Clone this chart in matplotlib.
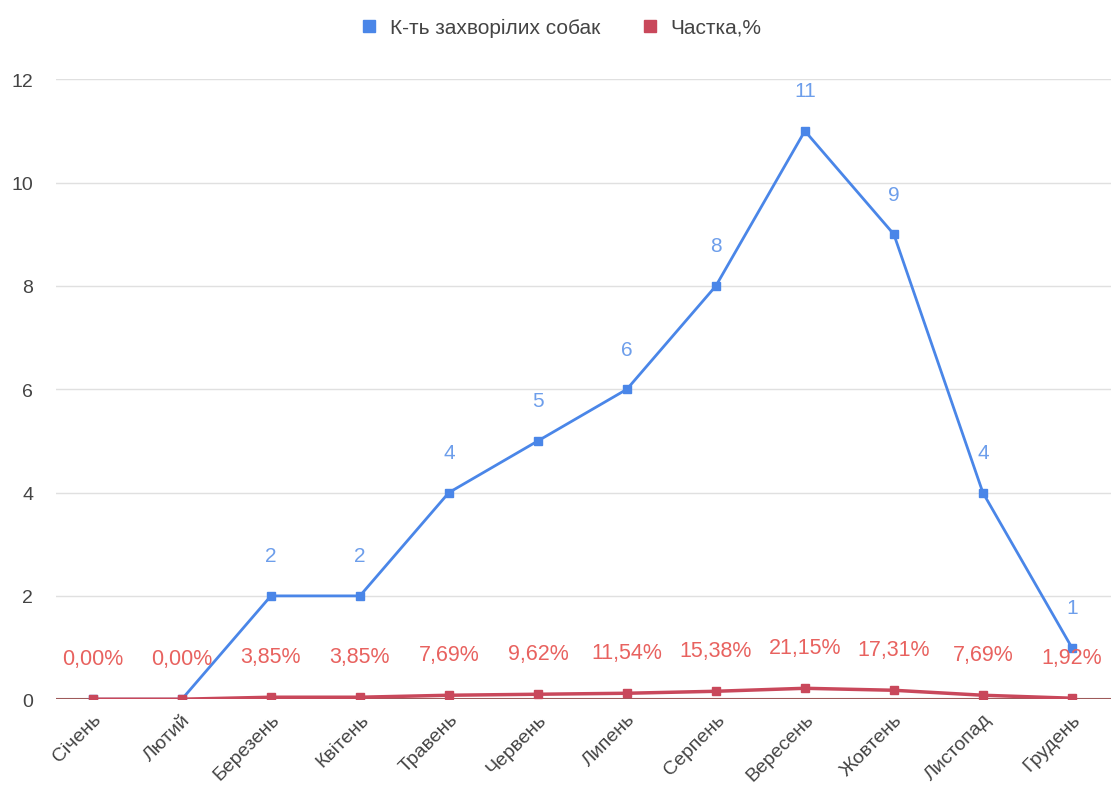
import matplotlib
matplotlib.use("Agg")
import matplotlib.pyplot as plt

months = ['Січень', 'Лютий', 'Березень', 'Квітень', 'Травень', 'Червень',
          'Липень', 'Серпень', 'Вересень', 'Жовтень', 'Листопад', 'Грудень']
sick_dogs = [0, 0, 2, 2, 4, 5, 6, 8, 11, 9, 4, 1]
share = [0.0, 0.0, 0.0385, 0.0385, 0.0769, 0.0962, 0.1154, 0.1538, 0.2115, 0.1731, 0.0769, 0.0192]
share_labels = ['0,00%', '0,00%', '3,85%', '3,85%', '7,69%', '9,62%',
                '11,54%', '15,38%', '21,15%', '17,31%', '7,69%', '1,92%']

plt.rcParams['font.family'] = ['Liberation Sans', 'DejaVu Sans']

blue = '#4a86e8'
red = '#c9485b'

fig = plt.figure(figsize=(11.11, 8.03), dpi=100)
ax = fig.add_axes([0.05, 0.128, 0.95, 0.772])

x = list(range(len(months)))
ax.plot(x, sick_dogs, color=blue, lw=2, marker='s', ms=6, label='К-ть захворілих собак')
ax.plot(x, share, color=red, lw=2.5, marker='s', ms=6, label='Частка,%')

# value labels
for i, v in enumerate(sick_dogs):
    if v > 0:
        ax.annotate(str(v), (i, v), xytext=(0, 22), textcoords='offset points',
                    ha='center', va='bottom', color='#6d9eeb', fontsize=15)
for i, (v, t) in enumerate(zip(share, share_labels)):
    ax.annotate(t, (i, v), xytext=(0, 22), textcoords='offset points',
                ha='center', va='bottom', color='#e8625f', fontsize=15.5)

ax.set_xlim(-0.42, 11.44)
ax.set_ylim(0, 12)
ax.set_yticks(range(0, 13, 2))
ax.set_xticks(x)
ax.set_xticklabels(months, rotation=45, ha='right', rotation_mode='anchor', fontsize=14, color='#444444')
ax.tick_params(axis='y', labelsize=14, labelcolor='#444444', length=0, pad=16)
ax.tick_params(axis='x', length=0, pad=8)
ax.grid(axis='y', color='#e0e0e0', lw=1)
ax.set_axisbelow(True)
for s in ax.spines.values():
    s.set_visible(False)
ax.axhline(0, color='#9e5a5a', lw=1.5, zorder=1)

leg = fig.legend(loc='upper center', bbox_to_anchor=(0.505, 1.0), ncol=2, frameon=False,
                 fontsize=15, handlelength=0.8, columnspacing=2, handletextpad=0.6)
for h in leg.legend_handles:
    h.set_linestyle('')
    h.set_markersize(9)
for t in leg.get_texts():
    t.set_color('#444444')

fig.savefig('out.png', dpi=100)
